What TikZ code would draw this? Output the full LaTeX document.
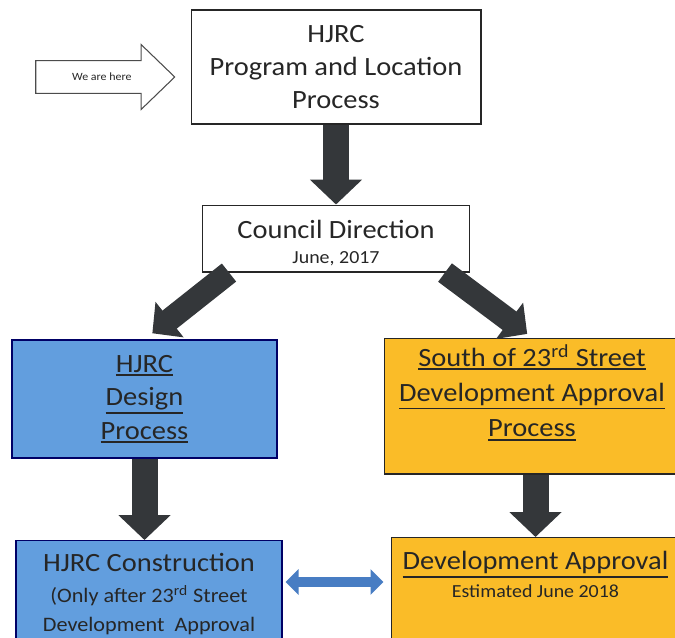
\documentclass[tikz,border=0pt]{standalone}
\usepackage{fontspec}
\setmainfont{Carlito}[FakeStretch=1.08]
\usetikzlibrary{arrows.meta,positioning,shapes.arrows}

\definecolor{boxblue}{RGB}{98,158,222}
\definecolor{boxgold}{RGB}{250,188,40}
\definecolor{arrowgray}{RGB}{52,55,58}
\definecolor{linkblue}{RGB}{72,125,195}
\definecolor{ink}{RGB}{38,38,38}

\newcommand{\bigtxt}{\fontsize{15}{19}\selectfont}
\newcommand{\midtxt}{\fontsize{11.7}{15}\selectfont}
\newcommand{\smalltxt}{\fontsize{10.5}{13}\selectfont}
\newcommand{\tinytxt}{\fontsize{6.3}{8}\selectfont}
% heavier underline than \underline gives
\newcommand{\thickul}[1]{\leavevmode\vtop{\hbox{#1}\kern1pt\hrule height 1.1pt}}

\begin{document}
\begin{tikzpicture}[x=0.02cm,y=-0.02cm,
    box/.style={rectangle,draw=black!85,line width=0.6pt,inner sep=0pt,
                align=center,text=ink,font=\bigtxt},
    bluebox/.style={box,fill=boxblue,draw=black!60!blue},
    goldbox/.style={box,fill=boxgold},
    fat/.style={draw=arrowgray,line width=0.52cm,
                -{Triangle[length=0.5cm,width=1.02cm]}},
    slant/.style={fat,line width=0.46cm,
                -{Triangle[length=0.44cm,width=0.88cm]}},
    link/.style={draw=linkblue,line width=0.2cm,
                {Triangle[length=0.26cm,width=0.5cm]}-{Triangle[length=0.26cm,width=0.5cm]}}]
    \useasboundingbox (0,0) rectangle (675,637);
    \clip (0,0) rectangle (675,637);

    % first step and where we stand
    \node[box,minimum width=5.8cm,minimum height=2.28cm] (top) at (336,67)
        {HJRC\\Program and Location\\Process};
    \node[single arrow,draw=black!70,line width=0.6pt,fill=white,text=ink,
          font=\tinytxt,inner ysep=0.24cm,minimum height=2.78cm,
          single arrow head extend=0.32cm,single arrow tip angle=88]
        (here) [left=0.3cm of top,yshift=-0.2cm] {\hspace{0.2cm}We are here};

    \node[box,minimum width=5.34cm,minimum height=1.34cm,text height=1.03cm] (council)
        [below=1.6cm of top]
        {Council Direction\\[-5pt]{\smalltxt June, 2017}};

    % the two tracks
    \node[bluebox,minimum width=5.3cm,minimum height=2.36cm] (design) at (144.5,399)
        {\thickul{HJRC}\\\thickul{Design}\\\thickul{Process}};
    \node[goldbox,minimum width=5.92cm,minimum height=2.72cm,text depth=0.62cm]
        (south) at (532,406)
        {\thickul{South of 23\textsuperscript{rd} Street}\\[1pt]
         \thickul{Development Approval}\\[1pt]\thickul{Process}};

    \node[bluebox,anchor=north,minimum width=5.32cm,inner ysep=0.26cm,text depth=1.6cm]
        (build) at (149,540)
        {HJRC Construction\\[-1.4pt]
         {\midtxt (Only after 23\textsuperscript{rd} Street}\\[-2.4pt]
         {\midtxt Development~~Approval}};
    \node[goldbox,anchor=north,minimum width=5.78cm,inner ysep=0.28cm,text depth=1.6cm]
        (approval) at (535.5,537)
        {\thickul{Development Approval}\\[-3pt]{\smalltxt Estimated June 2018}};

    % flow
    \draw[fat] (top) -- (council);
    \draw[slant,shorten >=0.2cm] ([xshift=0.54cm]council.south west) -- (design.north);
    \draw[slant,shorten >=0.12cm] ([xshift=-0.5cm]council.south east) -- (south.north);
    \draw[fat] (design.south) -- (design.south |- build.north);
    \draw[fat] (approval.north |- south.south) -- (approval.north);
    \draw[link] ([shift={(3,42)}]build.north east) -- ([shift={(-7,45)}]approval.north west);
\end{tikzpicture}
\end{document}
